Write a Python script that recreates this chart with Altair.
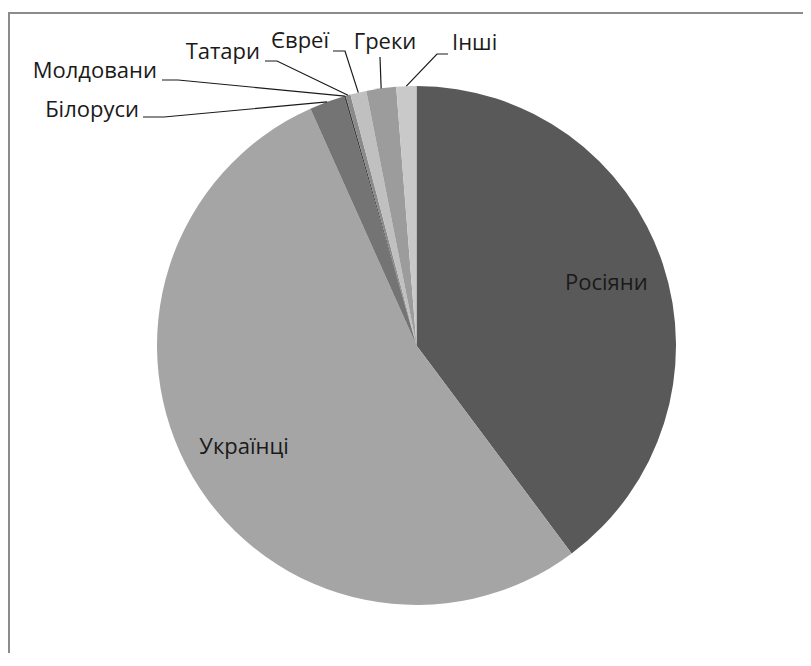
import math
import altair as alt
import pandas as pd

# ---- data ----
names = ["Росіяни", "Українці", "Білоруси", "Молдовани", "Татари", "Євреї", "Греки", "Інші"]
shares = [39.8, 53.5, 2.2, 0.1, 0.3, 1.0, 1.85, 1.25]
colors = ["#595959", "#a5a5a5", "#747474", "#3a3a3a", "#8a8a8a", "#c0c0c0", "#9c9c9c", "#c9c9c9"]
inside_names = ["Росіяни", "Українці"]

# ---- layout (page pixel coordinates of the reference) ----
PAD_L = 3
OX, OY = 8 + PAD_L, 8
CX, CY, R = 416.5 - OX, 345.5 - OY, 259.5
FONT = "Open Sans"
FS = 22

# outside labels: text anchor (x, baseline y), alignment, leader start points
outside_layout = {
    "Молдовани": (157, 78, "right", [(162, 80), (178, 80)]),
    "Білоруси": (139, 117, "right", [(143, 117), (164, 117)]),
    "Татари": (260, 59, "right", [(265, 61), (277, 61)]),
    "Євреї": (329, 48, "right", [(333, 51), (345, 51)]),
    "Греки": (385, 49, "center", [(380, 57)]),
    "Інші": (452, 50, "left", [(448, 54), (437, 54)]),
}

df = pd.DataFrame({
    "name": names,
    "share": shares,
    "idx": list(range(len(names))),
    "inside": [n if n in inside_names else "" for n in names],
})

# slice mid-points on the rim, from the data
total = sum(shares)
mids = {}
cum = 0.0
for n, s in zip(names, shares):
    a = (cum + s / 2) / total * 2 * math.pi
    mids[n] = (CX + R * math.sin(a), CY - R * math.cos(a))
    cum += s

line_rows, text_rows = [], []
for n, (tx, ty, al, pts) in outside_layout.items():
    k = 0
    for (px, py) in pts:
        line_rows.append({"label": n, "k": k, "px": px - OX, "py": py - OY})
        k += 1
    mx, my = mids[n]
    line_rows.append({"label": n, "k": k, "px": mx, "py": my})
    text_rows.append({"label": n, "tx": tx - OX, "ty": ty - OY, "align": al})
lines_df = pd.DataFrame(line_rows)
texts_df = pd.DataFrame(text_rows)

base = alt.Chart(df).encode(
    theta=alt.Theta("share:Q", stack=True),
    order=alt.Order("idx:Q"),
    detail="name:N",
)
pie = base.mark_arc(radius=R).encode(
    x=alt.value(CX), y=alt.value(CY),
    color=alt.Color("name:N", scale=alt.Scale(domain=names, range=colors), legend=None),
)
inside_text = base.mark_text(radius=200, font=FONT, fontSize=FS, color="#1a1a1a").encode(
    x=alt.value(CX), y=alt.value(CY), text="inside:N",
)

leaders = alt.Chart(lines_df).mark_line(color="#1a1a1a", strokeWidth=1.2).encode(
    x=alt.X("px:Q", scale=None, axis=None),
    y=alt.Y("py:Q", scale=None, axis=None),
    detail="label:N",
    order="k:Q",
)

def out_text(al):
    return alt.Chart(texts_df[texts_df["align"] == al]).mark_text(
        font=FONT, fontSize=FS, color="#1a1a1a", align=al, baseline="alphabetic"
    ).encode(
        x=alt.X("tx:Q", scale=None, axis=None),
        y=alt.Y("ty:Q", scale=None, axis=None),
        text="label:N",
    )

frame_top = alt.Chart(df).mark_rule(color="#8c8c8c", strokeWidth=2).encode(
    x=alt.value(9 - OX), x2=alt.value(820), y=alt.value(13 - OY),
)
frame_left = alt.Chart(df).mark_rule(color="#8c8c8c", strokeWidth=2).encode(
    x=alt.value(9 - OX), y=alt.value(12 - OY), y2=alt.value(700),
)

chart = alt.layer(
    pie, inside_text, leaders, out_text("right"), out_text("center"), out_text("left"),
    frame_top, frame_left,
).properties(
    width=795 - PAD_L, height=645,
    padding={"left": PAD_L, "top": 0, "right": 0, "bottom": 0},
    autosize=alt.AutoSizeParams(type="none"),
).configure_view(stroke=None)

chart.save("out.html", embed_options={"renderer": "svg", "actions": False})
